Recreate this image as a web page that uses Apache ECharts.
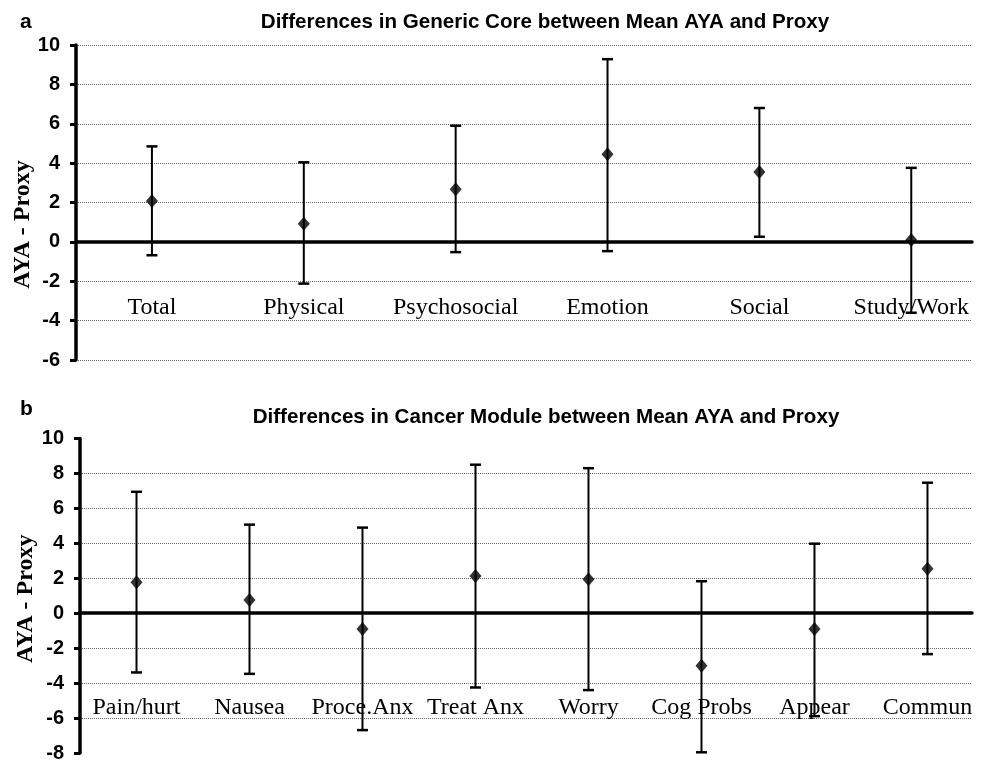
<!DOCTYPE html>
<html><head><meta charset="utf-8">
<script src="https://cdn.jsdelivr.net/npm/echarts@6/dist/echarts.min.js"></script>
<style>html,body{margin:0;padding:0;background:#fff}#c{width:983px;height:761px}</style>
</head><body><div id="c"></div>
<script>
// ---- Panel a: Generic Core ----
const coreCategories = ['Total', 'Physical', 'Psychosocial', 'Emotion', 'Social', 'Study/Work'];
const coreMean  = [2.07, 0.92, 2.67, 4.45, 3.55, 0.09];
const coreUpper = [4.85, 4.04, 5.90, 9.28, 6.80, 3.76];
const coreLower = [-0.68, -2.12, -0.52, -0.47, 0.26, -3.60];
const coreTicks = [-6, -4, -2, 0, 2, 4, 6, 8, 10];

// ---- Panel b: Cancer Module ----
const cancerCategories = ['Pain/hurt', 'Nausea', 'Proce.Anx', 'Treat Anx', 'Worry', 'Cog Probs', 'Appear', 'Commun'];
const cancerMean  = [1.77, 0.76, -0.91, 2.13, 1.94, -3.01, -0.91, 2.55];
const cancerUpper = [6.95, 5.07, 4.90, 8.50, 8.30, 1.83, 3.98, 7.47];
const cancerLower = [-3.39, -3.47, -6.69, -4.25, -4.40, -7.96, -5.89, -2.34];
const cancerTicks = [-8, -6, -4, -2, 0, 2, 4, 6, 8, 10];

const titleA = 'Differences in Generic Core between Mean AYA and Proxy';
const titleB = 'Differences in Cancer Module between Mean AYA and Proxy';
const yName = 'AYA - Proxy';

const chart = echarts.init(document.getElementById('c'));

function errRender(params, api) {
  const x = api.value(0), lo = api.value(1), hi = api.value(2);
  const pHi = api.coord([x, hi]);
  const pLo = api.coord([x, lo]);
  const w = 5.5;
  const st = { stroke: '#000', lineWidth: 2 };
  const cap = { stroke: '#000', lineWidth: 2.5 };
  return {
    type: 'group',
    children: [
      { type: 'line', shape: { x1: pHi[0], y1: pHi[1], x2: pLo[0], y2: pLo[1] }, style: st },
      { type: 'line', shape: { x1: pHi[0] - w, y1: pHi[1], x2: pHi[0] + w, y2: pHi[1] }, style: cap },
      { type: 'line', shape: { x1: pLo[0] - w, y1: pLo[1], x2: pLo[0] + w, y2: pLo[1] }, style: cap }
    ]
  };
}

function xAxisFor(gridIndex, cats, max, margin) {
  return {
    type: 'value', gridIndex: gridIndex, min: -0.5, max: max,
    axisLine: { show: true, onZero: true, lineStyle: { color: '#000', width: 3.5 } },
    axisTick: { show: false },
    splitLine: { show: false },
    axisLabel: {
      show: true,
      customValues: cats.map((c, i) => i),
      formatter: v => cats[Math.round(v)] || '',
      margin: margin,
      color: '#000',
      fontFamily: 'Liberation Serif, Times New Roman, serif',
      fontSize: 24,
      verticalAlign: 'top'
    }
  };
}

function yAxisFor(gridIndex, ticks, showEdges, namePad, gap) {
  return {
    type: 'value', gridIndex: gridIndex,
    min: ticks[0], max: ticks[ticks.length - 1], interval: 2,
    name: yName, nameLocation: 'middle', nameGap: gap, nameRotate: 90,
    nameMoveOverlap: false,
    nameTextStyle: {
      fontFamily: 'Liberation Serif, Times New Roman, serif', fontWeight: 'bold',
      fontSize: 24, color: '#000', padding: namePad
    },
    axisLine: { show: true, onZero: false, lineStyle: { color: '#000', width: 3.5 } },
    axisTick: { show: true, inside: false, length: 6, lineStyle: { color: '#000', width: 3 } },
    axisLabel: {
      color: '#000', fontFamily: 'Liberation Sans, Arial, sans-serif',
      fontWeight: 'bold', fontSize: 20, margin: 16
    },
    splitLine: {
      show: true, showMinLine: showEdges, showMaxLine: showEdges,
      lineStyle: { color: '#666', width: 1, type: [1, 1] }
    }
  };
}

chart.setOption({
  animation: false,
  backgroundColor: '#fff',
  grid: [
    { left: 76, top: 45, right: 11, height: 315, containLabel: false, outerBoundsMode: 'none' },
    { left: 80, top: 438.5, right: 11, height: 314.5, containLabel: false, outerBoundsMode: 'none' }
  ],
  xAxis: [
    xAxisFor(0, coreCategories, 5.4, -64),
    xAxisFor(1, cancerCategories, 7.394, -57)
  ],
  yAxis: [
    yAxisFor(0, coreTicks, true, [0, 44, 0, 0], 41),
    yAxisFor(1, cancerTicks, false, [0, 6, 0, 0], 42)
  ],
  graphic: [
    { type: 'text', left: 20, top: 12, style: { text: 'a', font: 'bold 21px "Liberation Sans", Arial, sans-serif', fill: '#000' } },
    { type: 'text', left: 20, top: 399, style: { text: 'b', font: 'bold 21px "Liberation Sans", Arial, sans-serif', fill: '#000' } },
    { type: 'text', x: 545, y: 22, style: { text: titleA, font: 'bold 20.6px "Liberation Sans", Arial, sans-serif', fill: '#000', align: 'center', verticalAlign: 'middle' } },
    { type: 'text', x: 546, y: 417, style: { text: titleB, font: 'bold 20.6px "Liberation Sans", Arial, sans-serif', fill: '#000', align: 'center', verticalAlign: 'middle' } }
  ],
  series: [
    {
      type: 'custom', xAxisIndex: 0, yAxisIndex: 0, renderItem: errRender, z: 3,
      data: coreCategories.map((c, i) => [i, coreLower[i], coreUpper[i]])
    },
    {
      type: 'scatter', xAxisIndex: 0, yAxisIndex: 0, symbol: 'diamond', symbolSize: [12, 14], z: 4,
      itemStyle: { color: '#000' },
      data: coreCategories.map((c, i) => [i, coreMean[i]])
    },
    {
      type: 'custom', xAxisIndex: 1, yAxisIndex: 1, renderItem: errRender, z: 3,
      data: cancerCategories.map((c, i) => [i, cancerLower[i], cancerUpper[i]])
    },
    {
      type: 'scatter', xAxisIndex: 1, yAxisIndex: 1, symbol: 'diamond', symbolSize: [12, 14], z: 4,
      itemStyle: { color: '#000' },
      data: cancerCategories.map((c, i) => [i, cancerMean[i]])
    }
  ]
});
</script>
</body></html>
